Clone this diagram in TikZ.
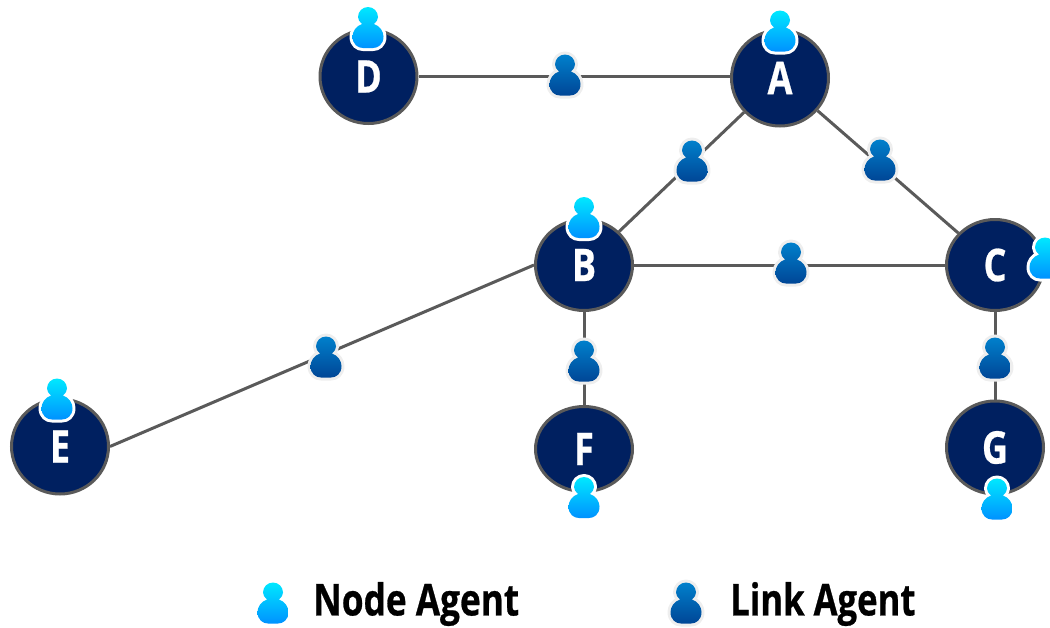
\documentclass[tikz,border=0pt]{standalone}
\usetikzlibrary{shapes.geometric}
\usepackage{fontspec}
\setmainfont{Open Sans}[BoldFeatures={FakeStretch=0.80,FakeBold=0.6}]
\definecolor{navy}{RGB}{0,32,96}
\definecolor{edgegray}{RGB}{90,90,90}
\definecolor{nodetop}{RGB}{0,232,255}
\definecolor{nodebot}{RGB}{0,146,255}
\definecolor{linktop}{RGB}{0,128,204}
\definecolor{linkbot}{RGB}{0,70,150}
\definecolor{halolink}{RGB}{238,238,238}
\newcommand{\agentoutline}{(-6,-3.5) .. controls (-8.5,-5.5) and (-10,-8) .. (-10,-10.5)
  .. controls (-10,-16) and (-5.5,-20.5) .. (0,-20.5)
  .. controls (5.5,-20.5) and (10,-16) .. (10,-10.5)
  .. controls (10,-8) and (8.5,-5.5) .. (6,-3.5)
  .. controls (12,-1.5) and (15.5,4) .. (15.5,9)
  .. controls (15.5,17) and (10,20.5) .. (5,20.5)
  -- (-5,20.5)
  .. controls (-10,20.5) and (-15.5,17) .. (-15.5,9)
  .. controls (-15.5,4) and (-12,-1.5) .. (-6,-3.5) -- cycle}
\tikzset{
  x=1pt,y=-1pt,
  hub/.style={ellipse,draw=edgegray,fill=navy,line width=3pt,minimum width=97pt,minimum height=#1,inner sep=0pt,
    text=white,font=\fontsize{45}{45}\selectfont\bfseries},
  hub/.default=95pt,
  wire/.style={draw=edgegray,line width=3pt},
  legendtext/.style={anchor=west,inner sep=0pt,text=black,font=\fontsize{44}{44}\selectfont\bfseries},
  nodeagent/.pic={\coordinate (-c) at (0,0);
    \path[draw=white,line width=6pt,line join=round] \agentoutline;
    \path[top color=nodetop,bottom color=nodebot] \agentoutline;},
  linkagent/.pic={\coordinate (-c) at (0,0);
    \path[draw=halolink,line width=6pt,line join=round] \agentoutline;
    \path[top color=linktop,bottom color=linkbot] \agentoutline;},
}
\begin{document}
\begin{tikzpicture}
\useasboundingbox (0,0) rectangle (1050,627);
\clip (0,0) rectangle (1050,627);
\node[hub=94pt] (D) at (368.5,76.5) {D};
\node[hub=96pt] (A) at (780,78) {A};
\node[hub=91pt] (B) at (584,265) {B};
\node[hub=91pt] (C) at (995,265) {C};
\node[hub=95pt] (E) at (60,446.5) {E};
\node[hub=85pt] (F) at (584,449) {F};
\node[hub=93pt] (G) at (995,447.5) {G};
\draw[wire] (D.east) -- (D.east -| A.west);
\draw[wire] (A) -- (B);
\draw[wire] (A) -- (C);
\draw[wire] (B) -- (C);
\draw[wire] (B.west) -- (E.east);
\draw[wire] (B) -- (F);
\draw[wire] (C) -- (G);
\pic (lDA) at (565,75) {linkagent};
\pic (lAB) at (692,161) {linkagent};
\pic (lAC) at (880,160) {linkagent};
\pic (lBC) at (791,263) {linkagent};
\pic (lBE) at (326,357) {linkagent};
\pic (lBF) at (584,361) {linkagent};
\pic (lCG) at (995,358) {linkagent};
\pic (nD) at (368,27.5) {nodeagent};
\pic (nA) at (780,31) {nodeagent};
\pic (nB) at (584,217.5) {nodeagent};
\pic (nC) at (1045,258) {nodeagent};
\pic (nE) at (57,399) {nodeagent};
\pic (nF) at (584,497.5) {nodeagent};
\pic (nG) at (997,499) {nodeagent};
\pic (legN) at (273,603) {nodeagent};
\node[legendtext] (legNt) at (313,604) {Node Agent};
\pic (legL) at (686,603) {linkagent};
\node[legendtext,xscale=0.985] (legLt) at (730,604) {Link Agent};
\end{tikzpicture}
\end{document}
